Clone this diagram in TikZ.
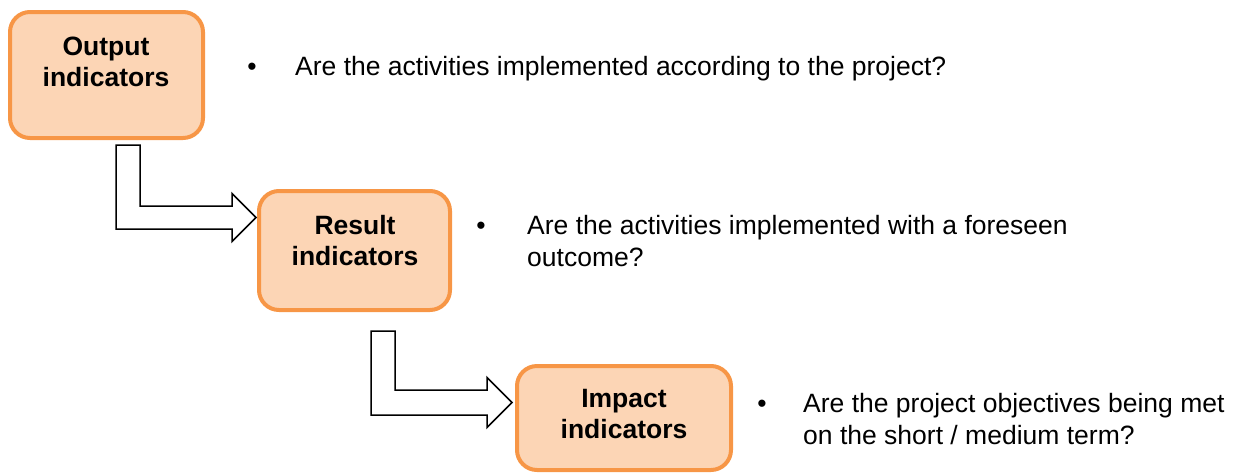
\documentclass[tikz,border=0pt]{standalone}
\usepackage{fontspec}
\setmainfont{Liberation Sans}
\usetikzlibrary{calc}
\definecolor{boxfill}{HTML}{FCD5B5}
\definecolor{boxdraw}{HTML}{F79646}
\tikzset{
  ind/.style={draw=boxdraw, fill=boxfill, line width=4pt, rounded corners=20pt, inner sep=0pt},
  indtext/.style={anchor=base, align=center, inner sep=0pt, font=\fontsize{26.5}{31}\selectfont\bfseries},
  bul/.style={anchor=base, inner sep=0pt, font=\fontsize{26.5}{31}\selectfont},
  bultext/.style={anchor=base west, align=left, inner sep=0pt, font=\fontsize{26.5}{32}\selectfont},
  blockarrow/.style={draw=black, fill=white, line width=1.5pt, line join=miter}
}
\begin{document}
\begin{tikzpicture}[x=1pt,y=-1pt]
\useasboundingbox (0,0) rectangle (1239,472);
% boxes
\node[ind, minimum width=193pt, minimum height=126pt] (b1) at (106.5,75) {};
\node[ind, minimum width=191pt, minimum height=119pt] (b2) at (354.5,250.5) {};
\node[ind, minimum width=214pt, minimum height=104pt] (b3) at (624,418) {};
% box texts (base anchor = last line baseline)
\node[indtext] (t1) at (106,86) {Output\\indicators};
\node[indtext] (t2) at (355,265) {Result\\indicators};
\node[indtext] (t3) at (624,438) {Impact\\indicators};
% block arrows
\draw[blockarrow] ($(b1.south)+(9.5,5)$) coordinate (s1)
  -- ++(24,0) -- ++(0,61) -- ++(92,0) -- ++(0,-12.5)
  -- ($(b2.west)+(-1,-33)$) coordinate (e1)
  -- ++(-24,24) -- ++(0,-12.5) -- ++(-116,0) -- cycle;
\draw[blockarrow] ($(b2.south)+(16.5,19)$) coordinate (s2)
  -- ++(24,0) -- ++(0,59) -- ++(92,0) -- ++(0,-12.5)
  -- ($(b3.west)+(-3,-15.5)$) coordinate (e2)
  -- ++(-25,25) -- ++(0,-12.5) -- ++(-116,0) -- cycle;
% bullets
\node[bul] (d1) at (252,75) {\textbullet};
\node[bultext] (q1) at (295,75) {Are the activities implemented according to the project?};
\node[bul] (d2) at (481,234) {\textbullet};
\node[bultext] (q2) at (527,266) {Are the activities implemented with a foreseen\\outcome?};
\node[bul] (d3) at (762,412) {\textbullet};
\node[bultext] (q3) at (803,444) {Are the project objectives being met\\on the short / medium term?};
\end{tikzpicture}
\end{document}
